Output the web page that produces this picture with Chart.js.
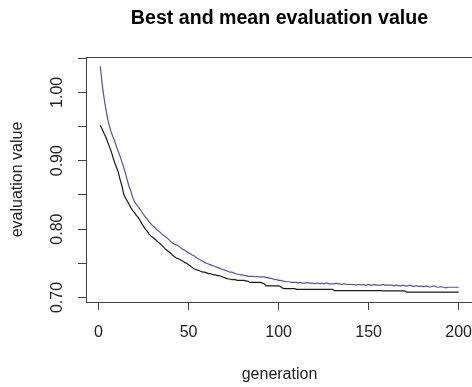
<!DOCTYPE html>
<html><head><meta charset="utf-8">
<script src="https://cdn.jsdelivr.net/npm/chart.js@4.4.0/dist/chart.umd.min.js"></script>
<style>html,body{margin:0;padding:0;overflow:hidden;background:#fff;width:472px;height:387px}canvas{display:block}</style>
</head><body>
<canvas id="c" width="482" height="387" style="width:482px;height:387px"></canvas>
<script>
// best (black) evaluation value per generation 1..200
const best = [
0.952,0.946,0.940,0.935,0.928,0.921,0.914,0.905,0.897,0.890,
0.883,0.872,0.863,0.851,0.845,0.841,0.836,0.831,0.827,0.824,
0.820,0.817,0.813,0.808,0.804,0.800,0.797,0.793,0.790,0.788,
0.786,0.784,0.781,0.779,0.777,0.774,0.771,0.769,0.767,0.765,
0.762,0.760,0.758,0.757,0.756,0.754,0.753,0.751,0.750,0.748,
0.746,0.744,0.742,0.741,0.740,0.739,0.738,0.737,0.737,0.736,
0.735,0.735,0.734,0.733,0.733,0.732,0.732,0.731,0.730,0.729,
0.728,0.727,0.727,0.726,0.726,0.726,0.725,0.725,0.725,0.725,
0.725,0.724,0.724,0.722,0.722,0.722,0.722,0.722,0.722,0.722,
0.721,0.720,0.717,0.717,0.717,0.717,0.717,0.717,0.717,0.717,
0.716,0.714,0.713,0.713,0.713,0.713,0.713,0.713,0.713,0.712,
0.712,0.712,0.712,0.712,0.712,0.712,0.712,0.712,0.712,0.712,
0.712,0.712,0.712,0.712,0.712,0.712,0.712,0.712,0.712,0.712,
0.710,0.710,0.710,0.710,0.710,0.710,0.710,0.710,0.710,0.710,
0.710,0.710,0.710,0.710,0.710,0.710,0.710,0.710,0.710,0.710,
0.710,0.710,0.710,0.710,0.710,0.710,0.710,0.7097,0.7097,0.7097,
0.7097,0.7097,0.7097,0.7097,0.7097,0.7097,0.7097,0.7097,0.7097,0.7097,
0.7078,0.7078,0.7078,0.7078,0.7078,0.7078,0.7078,0.7078,0.7078,0.7078,
0.7078,0.7078,0.7078,0.7078,0.7078,0.7078,0.7078,0.7078,0.7078,0.7078,
0.7078,0.7078,0.7078,0.7078,0.7078,0.7078,0.7078,0.7078,0.7078,0.7078
];
// mean (blue) evaluation value per generation 1..200
const mean = [
1.038,1.012,0.993,0.976,0.962,0.951,0.942,0.935,0.928,0.920,
0.913,0.906,0.898,0.890,0.881,0.871,0.862,0.855,0.846,0.840,
0.836,0.833,0.829,0.825,0.821,0.818,0.815,0.811,0.808,0.805,
0.803,0.800,0.798,0.796,0.793,0.791,0.789,0.787,0.785,0.782,
0.780,0.778,0.777,0.776,0.774,0.772,0.770,0.769,0.767,0.765,
0.764,0.762,0.761,0.759,0.757,0.756,0.754,0.753,0.751,0.750,
0.749,0.748,0.747,0.746,0.745,0.744,0.743,0.742,0.741,0.740,
0.739,0.738,0.737,0.737,0.736,0.735,0.734,0.734,0.733,0.733,
0.732,0.732,0.731,0.731,0.731,0.731,0.730,0.731,0.730,0.730,
0.730,0.730,0.729,0.729,0.728,0.728,0.727,0.726,0.726,0.725,
0.725,0.724,0.724,0.723,0.723,0.723,0.722,0.722,0.722,0.722,
0.721,0.722,0.721,0.721,0.721,0.722,0.721,0.721,0.721,0.720,
0.721,0.721,0.720,0.721,0.720,0.721,0.721,0.720,0.720,0.720,
0.720,0.721,0.720,0.720,0.719,0.720,0.720,0.719,0.719,0.719,
0.719,0.719,0.718,0.719,0.719,0.718,0.719,0.718,0.718,0.719,
0.718,0.718,0.719,0.718,0.718,0.718,0.718,0.719,0.718,0.718,
0.718,0.718,0.718,0.717,0.718,0.718,0.717,0.717,0.718,0.717,
0.717,0.717,0.718,0.717,0.716,0.717,0.717,0.716,0.717,0.716,
0.716,0.717,0.716,0.715,0.716,0.717,0.716,0.715,0.715,0.716,
0.715,0.715,0.714,0.715,0.715,0.715,0.715,0.715,0.715,0.715
];
const generations = best.map((_, i) => i + 1);
const xTicks = [0, 50, 100, 150, 200];
const yTicks = [0.70, 0.75, 0.80, 0.85, 0.90, 0.95, 1.00, 1.05];
const yTickLabels = ['0.70', '', '0.80', '', '0.90', '', '1.00', ''];

const FONT = '"Liberation Sans", Arial, sans-serif';
const AXIS = '#444';

const boxPlugin = {
  id: 'box',
  beforeDatasetsDraw(chart) {
    const {ctx, chartArea: a} = chart;
    ctx.save();
    ctx.strokeStyle = AXIS;
    ctx.lineWidth = 1;
    ctx.strokeRect(Math.round(a.left) + 0.5, Math.round(a.top) + 0.5,
      Math.round(a.right - a.left), Math.round(a.bottom - a.top));
    ctx.restore();
  }
};

new Chart(document.getElementById('c'), {
  type: 'line',
  data: {
    datasets: [
      { label: 'mean', data: generations.map((g, i) => ({x: g, y: mean[i]})),
        borderColor: '#55559e', borderWidth: 1.2, pointRadius: 0, tension: 0, fill: false },
      { label: 'best', data: generations.map((g, i) => ({x: g, y: best[i]})),
        borderColor: '#1a1a1a', borderWidth: 1.2, pointRadius: 0, tension: 0, fill: false }
    ]
  },
  options: {
    responsive: false,
    animation: false,
    devicePixelRatio: 1,
    layout: { padding: { left: 0, right: 9, top: 0, bottom: 0 } },
    plugins: {
      legend: { display: false },
      tooltip: { enabled: false },
      title: { display: true, fullSize: false, text: 'Best and mean evaluation value', color: '#000',
        font: { family: FONT, size: 19.6, weight: 'bold' }, padding: { top: 7, bottom: 26.5 } }
    },
    scales: {
      x: {
        type: 'linear', bounds: 'data', min: -6.96, max: 207.96,
        afterBuildTicks: s => { s.ticks = xTicks.map(v => ({ value: v })); },
        afterFit: s => { s.height = 85; s.paddingLeft = 0; s.paddingRight = 0; },
        grid: { drawOnChartArea: false, drawTicks: true, tickLength: 8, color: AXIS, lineWidth: 1 },
        border: { display: true, color: AXIS, width: 1 },
        ticks: { padding: 13, color: '#222', font: { family: FONT, size: 16 }, maxRotation: 0, autoSkip: false,
          callback: v => String(v) },
        title: { display: true, text: 'generation', color: '#222', font: { family: FONT, size: 16 },
          padding: { top: 0, bottom: 3 } }
      },
      y: {
        type: 'linear', bounds: 'data', min: 0.6934, max: 1.0516,
        afterBuildTicks: s => { s.ticks = yTicks.map(v => ({ value: v })); },
        afterFit: s => { s.width = 86; s.paddingTop = 0; s.paddingBottom = 0; },
        grid: { drawOnChartArea: false, drawTicks: true, tickLength: 8, color: AXIS, lineWidth: 1 },
        border: { display: true, color: AXIS, width: 1 },
        ticks: { padding: 5, color: '#222', font: { family: FONT, size: 16 }, minRotation: 90, maxRotation: 90,
          crossAlign: 'center', autoSkip: false, callback: (v, i) => yTickLabels[i] },
        title: { display: true, text: 'evaluation value', color: '#222', font: { family: FONT, size: 16 },
          padding: { top: 8, bottom: 0 } }
      }
    }
  },
  plugins: [boxPlugin]
});
</script>
</body></html>
